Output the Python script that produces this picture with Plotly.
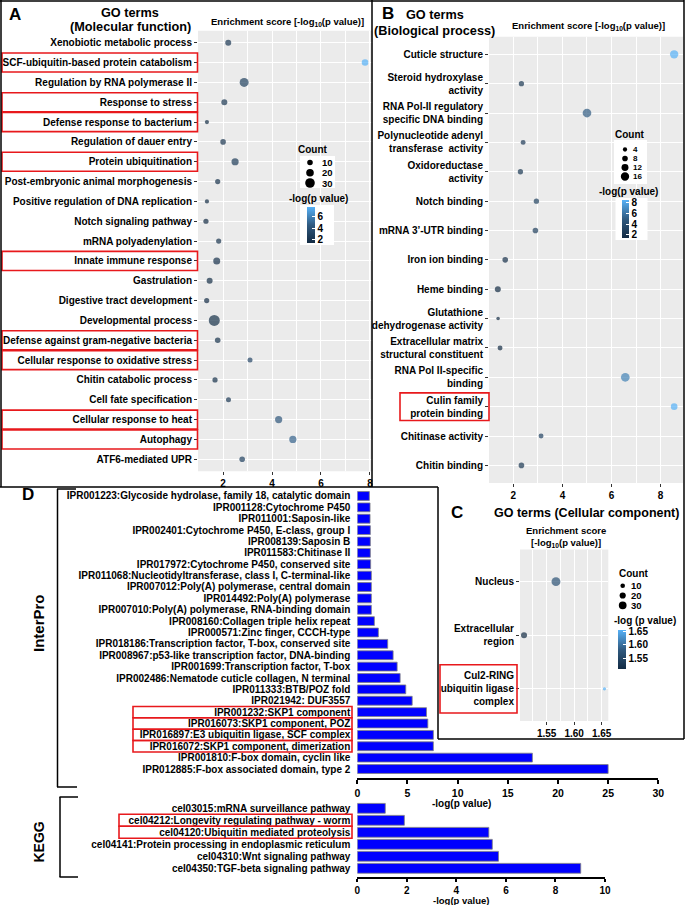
import plotly.graph_objects as go

W, H = 685, 905
FONT = "Liberation Sans"

# ---------------- data ----------------
a_terms = ["Xenobiotic metabolic process", "SCF-ubiquitin-based protein catabolism",
           "Regulation by RNA polymerase II", "Response to stress", "Defense response to bacterium",
           "Regulation of dauer entry", "Protein ubiquitination", "Post-embryonic animal morphogenesis",
           "Positive regulation of DNA replication", "Notch signaling pathway", "mRNA polyadenylation",
           "Innate immune response", "Gastrulation", "Digestive tract development",
           "Developmental process", "Defense against gram-negative bacteria",
           "Cellular response to oxidative stress", "Chitin catabolic process", "Cell fate specification",
           "Cellular response to heat", "Autophagy", "ATF6-mediated UPR"]
a_score = [2.21, 7.80, 2.86, 2.05, 1.34, 2.00, 2.49, 1.78, 1.34, 1.30, 1.82,
           1.74, 1.45, 1.33, 1.64, 1.78, 3.10, 1.67, 2.22, 4.27, 4.85, 2.78]
a_count = [12, 15, 27, 12, 3, 10, 18, 8, 3, 8, 8,
           17, 12, 8, 37, 10, 7, 8, 7, 18, 18, 10]
a_boxed = ["SCF-ubiquitin-based protein catabolism", "Response to stress",
           "Defense response to bacterium", "Protein ubiquitination", "Innate immune response",
           "Defense against gram-negative bacteria", "Cellular response to oxidative stress",
           "Cellular response to heat", "Autophagy"]

b_terms = ["Cuticle structure", "Steroid hydroxylase<br>activity",
           "RNA Pol-II regulatory<br>specific DNA binding", "Polynucleotide adenyl<br>transferase  activity",
           "Oxidoreductase<br>activity", "Notch binding", "mRNA 3\u2019-UTR binding", "Iron ion binding",
           "Heme binding", "Glutathione<br>dehydrogenase activity",
           "Extracellular matrix<br>structural constituent", "RNA Pol II-specific<br>binding",
           "Culin family<br>protein binding", "Chitinase activity", "Chitin binding"]
b_score = [8.55, 2.33, 5.00, 2.40, 2.29, 2.94, 2.90, 1.67, 1.37, 1.38, 1.46, 6.56, 8.55, 3.13, 2.33]
b_count = [16, 7, 17, 6, 7, 7, 8, 8, 9, 2, 6, 17, 11, 6, 8]
b_boxed = ["Culin family<br>protein binding"]

c_terms = ["Nucleus", "Extracellular<br>region", "Cul2-RING<br>ubiquitin ligase<br>complex"]
c_score = [1.567, 1.509, 1.655]
c_count = [37, 19, 2]
c_boxed = ["Cul2-RING<br>ubiquitin ligase<br>complex"]

ipr_terms = ["IPR001223:Glycoside hydrolase, family 18, catalytic domain",
             "IPR001128:Cytochrome P450", "IPR011001:Saposin-like",
             "IPR002401:Cytochrome P450, E-class, group I", "IPR008139:Saposin B",
             "IPR011583:Chitinase II", "IPR017972:Cytochrome P450, conserved site",
             "IPR011068:Nucleotidyltransferase, class I, C-terminal-like",
             "IPR007012:Poly(A) polymerase, central domain", "IPR014492:Poly(A) polymerase",
             "IPR007010:Poly(A) polymerase, RNA-binding domain", "IPR008160:Collagen triple helix repeat",
             "IPR000571:Zinc finger, CCCH-type", "IPR018186:Transcription factor, T-box, conserved site",
             "IPR008967:p53-like transcription factor, DNA-binding", "IPR001699:Transcription factor, T-box",
             "IPR002486:Nematode cuticle collagen, N terminal", "IPR011333:BTB/POZ fold",
             "IPR021942: DUF3557", "IPR001232:SKP1 component", "IPR016073:SKP1 component, POZ",
             "IPR016897:E3 ubiquitin ligase, SCF complex", "IPR016072:SKP1 component, dimerization",
             "IPR001810:F-box domain, cyclin like", "IPR012885:F-box associated domain, type 2"]
ipr_vals = [1.2, 1.27, 1.27, 1.3, 1.3, 1.3, 1.33, 1.4, 1.4, 1.4, 1.4, 1.7, 2.1, 3.03,
            3.57, 3.97, 4.27, 4.83, 5.47, 6.9, 7.03, 7.58, 7.58, 17.45, 25.0]
ipr_boxed = ["IPR001232:SKP1 component", "IPR016073:SKP1 component, POZ",
             "IPR016897:E3 ubiquitin ligase, SCF complex", "IPR016072:SKP1 component, dimerization"]

kegg_terms = ["cel03015:mRNA surveillance pathway", "cel04212:Longevity regulating pathway - worm",
              "cel04120:Ubiquitin mediated proteolysis", "cel04141:Protein processing in endoplasmic reticulum",
              "cel04310:Wnt signaling pathway", "cel04350:TGF-beta signaling pathway"]
kegg_vals = [1.13, 1.9, 5.31, 5.45, 5.7, 9.02]
kegg_boxed = ["cel04212:Longevity regulating pathway - worm", "cel04120:Ubiquitin mediated proteolysis"]

a_size_breaks = [10, 20, 30]
b_size_breaks = [4, 8, 12, 16]
c_size_breaks = [10, 20, 30]
a_color_ticks = [2, 4, 6]
b_color_ticks = [2, 4, 6, 8]
c_color_ticks = [1.55, 1.60, 1.65]

# ---------------- helpers ----------------
def px(x):
    return x / W

def py(y):
    return 1 - y / H

def dia_a(c):
    return 3.6 + 0.2 * c

def dia_b(c):
    return 2.9 + 0.34 * c

def dia_c(c):
    return 3.0 + 0.16 * c

GG_LOW, GG_HIGH = "#132B43", "#56B1F7"
SCALE = [[0, GG_LOW], [0.5, "#305A80"], [1, GG_HIGH]]

def bfont(size, color="black"):
    return dict(family=FONT, size=size, color=color, weight="bold")

annotations = []
shapes = []

def txt(x, y, s, size, anchor="center", angle=0):
    annotations.append(dict(x=px(x), y=py(y), xref="paper", yref="paper", text=s,
                            showarrow=False, xanchor=anchor, yanchor="middle",
                            textangle=angle, font=bfont(size), borderpad=0))

def line(x0, y0, x1, y1, w=1.5, color="black"):
    shapes.append(dict(type="line", xref="paper", yref="paper", x0=px(x0), y0=py(y0),
                       x1=px(x1), y1=py(y1), line=dict(color=color, width=w), layer="above"))

def white_box(x0, y0, x1, y1):
    shapes.append(dict(type="rect", xref="paper", yref="paper", x0=px(x0), y0=py(y0),
                       x1=px(x1), y1=py(y1), fillcolor="white", line=dict(width=0), layer="above"))

def key(cx, cy, d):
    shapes.append(dict(type="circle", xref="paper", yref="paper", xsizemode="pixel",
                       ysizemode="pixel", xanchor=px(cx), yanchor=py(cy), x0=-d / 2, x1=d / 2,
                       y0=-d / 2, y1=d / 2, fillcolor="black", line=dict(width=0), layer="above"))

def red_box(terms, boxed, yref, x0, x1, half=0.48):
    for t in boxed:
        i = terms.index(t)
        shapes.append(dict(type="rect", xref="paper", yref=yref, x0=px(x0), x1=px(x1),
                           y0=i - half, y1=i + half, line=dict(color="#E8191C", width=1.6),
                           fillcolor="rgba(0,0,0,0)", layer="above"))

def grey_panel(xr, yr):
    shapes.append(dict(type="rect", xref=xr + " domain", yref=yr + " domain", x0=0, x1=1,
                       y0=0, y1=1, fillcolor="#EBEBEB", line=dict(width=0), layer="below"))

fig = go.Figure()

# ---------------- dot plots ----------------
fig.add_trace(go.Scatter(x=a_score, y=a_terms, mode="markers", xaxis="x", yaxis="y",
                         marker=dict(size=[dia_a(c) for c in a_count], sizemode="diameter",
                                     color=a_score, coloraxis="coloraxis", line=dict(width=0)),
                         showlegend=False, cliponaxis=False))
fig.add_trace(go.Scatter(x=b_score, y=b_terms, mode="markers", xaxis="x2", yaxis="y2",
                         marker=dict(size=[dia_b(c) for c in b_count], sizemode="diameter",
                                     color=b_score, coloraxis="coloraxis2", line=dict(width=0)),
                         showlegend=False, cliponaxis=False))
fig.add_trace(go.Scatter(x=c_score, y=c_terms, mode="markers", xaxis="x3", yaxis="y3",
                         marker=dict(size=[dia_c(c) for c in c_count], sizemode="diameter",
                                     color=c_score, coloraxis="coloraxis3", line=dict(width=0)),
                         showlegend=False, cliponaxis=False))

# ---------------- bar charts ----------------
fig.add_trace(go.Bar(x=ipr_vals, y=ipr_terms, orientation="h", xaxis="x4", yaxis="y4",
                     width=0.78, marker=dict(color="#0000FF", line=dict(color="#808080", width=0.8)),
                     showlegend=False))
fig.add_trace(go.Bar(x=kegg_vals, y=kegg_terms, orientation="h", xaxis="x5", yaxis="y5",
                     width=0.82, marker=dict(color="#0000FF", line=dict(color="#808080", width=0.8)),
                     showlegend=False))

def gg_x(domain, rng, dtick, minor, tick0=0, fmt=None):
    d = dict(domain=domain, range=rng, dtick=dtick, tick0=tick0, showgrid=True, gridcolor="white",
             gridwidth=1.1, zeroline=False, showline=False, ticks="outside", ticklen=3,
             tickcolor="#333333", tickfont=bfont(10), automargin=False, fixedrange=True,
             minor=dict(dtick=minor, tick0=tick0, showgrid=True, gridcolor="white", gridwidth=0.5))
    if fmt:
        d["tickformat"] = fmt
    return d

def gg_y(domain, terms):
    n = len(terms)
    return dict(domain=domain, type="category", categoryorder="array", categoryarray=terms,
                tickmode="array", tickvals=terms, ticktext=terms,
                range=[n - 1 + 0.6, -0.6], showgrid=True, gridcolor="white", gridwidth=1.1,
                zeroline=False, showline=False, ticks="outside", ticklen=3, tickcolor="#333333",
                tickfont=bfont(10), automargin=False, fixedrange=True)

def bar_y(domain, terms, bottom):
    return dict(domain=domain, type="category", categoryorder="array", categoryarray=terms,
                tickmode="array", tickvals=terms, ticktext=terms,
                range=[bottom, -0.5], showgrid=False, zeroline=False, showline=False, ticks="",
                tickfont=bfont(10), automargin=False, ticklabelstandoff=6, fixedrange=True)

def bar_x(domain, rng, dtick, tlen=4, fsize=10.5):
    return dict(domain=domain, range=rng, dtick=dtick, showgrid=False, zeroline=False,
                showline=True, linecolor="black", linewidth=1.6, ticks="outside", ticklen=tlen,
                tickwidth=1.6, tickcolor="black", tickfont=bfont(fsize), automargin=False,
                fixedrange=True)

layout = dict(
    width=W, height=H, margin=dict(l=0, r=0, t=0, b=0), template="none",
    paper_bgcolor="white", plot_bgcolor="rgba(0,0,0,0)", showlegend=False,
    font=dict(family=FONT, color="black"),
    xaxis=dict(gg_x([px(198), px(373)], [0.975, 8.125], 2, 1), anchor="y"),
    yaxis=dict(gg_y([py(471.2), py(30.8)], a_terms), anchor="x"),
    xaxis2=dict(gg_x([px(489), px(683)], [1.01, 8.91], 2, 1), anchor="y2"),
    yaxis2=dict(gg_y([py(483), py(36.7)], b_terms), anchor="x2"),
    xaxis3=dict(gg_x([px(520), px(608.3)], [1.5017, 1.662], 0.05, 0.025, tick0=1.5, fmt=".2f"), anchor="y3"),
    yaxis3=dict(gg_y([py(721), py(549.5)], c_terms), anchor="x3"),
    xaxis4=dict(bar_x([px(357.3), px(658.3)], [0, 30], 5), anchor="y4"),
    yaxis4=dict(bar_y([py(778.1), py(490.3)], ipr_terms, len(ipr_terms) - 1 + 0.8), anchor="x4"),
    xaxis5=dict(bar_x([px(357.3), px(605)], [0, 10], 2, tlen=3, fsize=10), anchor="y5"),
    yaxis5=dict(bar_y([py(876.7), py(802.3)], kegg_terms, len(kegg_terms) - 1 + 0.7), anchor="x5"),
    coloraxis=dict(colorscale=SCALE, cmin=min(a_score), cmax=max(a_score),
                   colorbar=dict(x=px(300), xanchor="left", xpad=7, y=py(205), yanchor="top", ypad=2,
                                 len=40, lenmode="pixels", thickness=8, thicknessmode="pixels",
                                 tickvals=a_color_ticks, ticks="inside", ticklen=3, tickcolor="white",
                                 tickfont=bfont(10), outlinewidth=0, bgcolor="white", title=dict(text=""))),
    coloraxis2=dict(colorscale=SCALE, cmin=min(b_score), cmax=max(b_score),
                    colorbar=dict(x=px(615), xanchor="left", xpad=6.5, y=py(198), yanchor="top", ypad=2,
                                  len=42, lenmode="pixels", thickness=6.5, thicknessmode="pixels",
                                  tickvals=b_color_ticks, ticks="inside", ticklen=3, tickcolor="white",
                                  tickfont=bfont(10), outlinewidth=0, bgcolor="white", title=dict(text=""))),
    coloraxis3=dict(colorscale=SCALE, cmin=min(c_score), cmax=max(c_score),
                    colorbar=dict(x=px(616.3), xanchor="left", xpad=2, y=py(628), yanchor="top", ypad=2,
                                  len=43, lenmode="pixels", thickness=8, thicknessmode="pixels",
                                  tickvals=c_color_ticks, tickformat=".2f", ticks="inside", ticklen=3,
                                  tickcolor="white", tickfont=bfont(10), outlinewidth=0,
                                  bgcolor="rgba(0,0,0,0)", title=dict(text=""))),
)

# grey ggplot panels
grey_panel("x", "y")
grey_panel("x2", "y2")
grey_panel("x3", "y3")

# red highlight boxes
red_box(a_terms, a_boxed, "y", 2, 197.5)
red_box(b_terms, b_boxed, "y2", 400, 489, half=0.47)
red_box(c_terms, c_boxed, "y3", 440, 517, half=0.45)
red_box(ipr_terms, ipr_boxed, "y4", 133, 352, half=0.5)
red_box(kegg_terms, kegg_boxed, "y5", 119, 352, half=0.5)

# size legends
white_box(300, 156, 335, 188)
for yy, c in zip([162.5, 172.7, 183.0], a_size_breaks):
    key(310, yy, dia_a(c))
    txt(321, yy, str(c), 9.5, anchor="left")
white_box(614, 140, 647, 184)
for yy, c in zip([149.5, 158.5, 167.5, 176.5], b_size_breaks):
    key(625, yy, dia_b(c))
    txt(632, yy, str(c), 8, anchor="left")
for yy, c in zip([585.7, 595.5, 605.3], c_size_breaks):
    key(622.7, yy, dia_c(c))
    txt(630, yy, str(c), 9.5, anchor="left")

txt(313, 149, "Count", 10)
txt(318, 199, "-log(p value)", 10)
txt(630, 134.5, "Count", 10)
txt(628, 192, "-log(p value)", 10)
txt(634, 573, "Count", 10)
txt(645, 620, "-log (p value)", 10)

# titles
txt(15, 14, "A", 17)
txt(130, 12.5, "GO terms", 12.7)
txt(130.5, 27.5, "(Molecular function)", 12.7)
txt(287, 21.7, "Enrichment score [-log<sub>10</sub>(p value)]", 9.5)
txt(388, 13, "B", 17)
txt(435, 15, "GO terms", 12.7)
txt(434.5, 30.5, "(Biological process)", 12.7)
txt(588, 26.5, "Enrichment score [-log<sub>10</sub>(p value)]", 9.5)
txt(457, 512, "C", 17)
txt(586, 513, "GO terms (Cellular component)", 12.5)
txt(566, 530, "Enrichment score", 9.5)
txt(566, 542.5, "[-log<sub>10</sub>(p value)]", 9.5)
txt(28, 494, "D", 17)
txt(38, 623, "InterPro", 15, angle=-90)
txt(38, 842.5, "KEGG", 14, angle=-90)
txt(461, 803, "-log(p value)", 10)
txt(461, 900, "-log(p value)", 9.5)

# panel frames and brackets
line(0, 1, 684, 1)
line(1, 0, 1, 487)
line(372, 0, 372, 487)
line(0, 487, 438, 487)
line(684, 0, 684, 739)
line(438, 487, 438, 739)
line(438, 739, 684, 739)
line(57.5, 489, 57.5, 787)
line(57, 489, 76, 489)
line(57, 787, 77, 787)
line(60, 797, 60, 877)
line(59.5, 797, 78, 797)
line(59.5, 877, 78, 877)

layout["annotations"] = annotations
layout["shapes"] = shapes
fig.update_layout(**layout)

fig.write_html("out.html", config={"displayModeBar": False},
               post_script="document.body.style.margin='0px';document.body.style.overflow='hidden';")
